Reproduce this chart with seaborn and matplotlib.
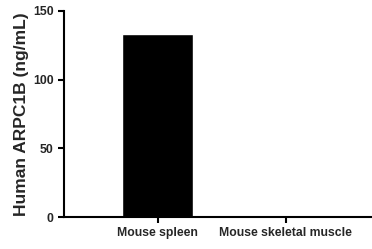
import matplotlib
matplotlib.use("Agg")
import matplotlib.pyplot as plt
import seaborn as sns
import pandas as pd

# Datos
tissues = ["Mouse spleen", "Mouse skeletal muscle"]
arpc1b = [133.5, 0.0]

df = pd.DataFrame({"tissue": tissues, "value": arpc1b})

sns.set_style("ticks")
plt.rcParams["font.family"] = ["Liberation Sans", "DejaVu Sans"]
plt.rcParams["font.weight"] = "bold"

fig = plt.figure(figsize=(3.72, 2.49), dpi=100)
ax = fig.add_axes([0.172, 0.1285, 0.826, 0.8275])

sns.barplot(data=df, x="tissue", y="value", color="black", width=0.555,
            saturation=1, ax=ax)

ax.set_xlim(-0.734, 1.67)
ax.set_ylim(0, 150)
ax.set_yticks([0, 50, 100, 150])
ax.set_xlabel("")
ax.set_ylabel("Human ARPC1B (ng/mL)", fontsize=12.5, fontweight="bold", labelpad=3)
ax.tick_params(axis="both", labelsize=8.8, width=1.5, length=4, color="black")
for lbl in ax.get_xticklabels() + ax.get_yticklabels():
    lbl.set_fontweight("bold")
sns.despine(ax=ax)
for side in ["left", "bottom"]:
    ax.spines[side].set_linewidth(1.5)
    ax.spines[side].set_color("black")

fig.savefig("out.png", dpi=100)
